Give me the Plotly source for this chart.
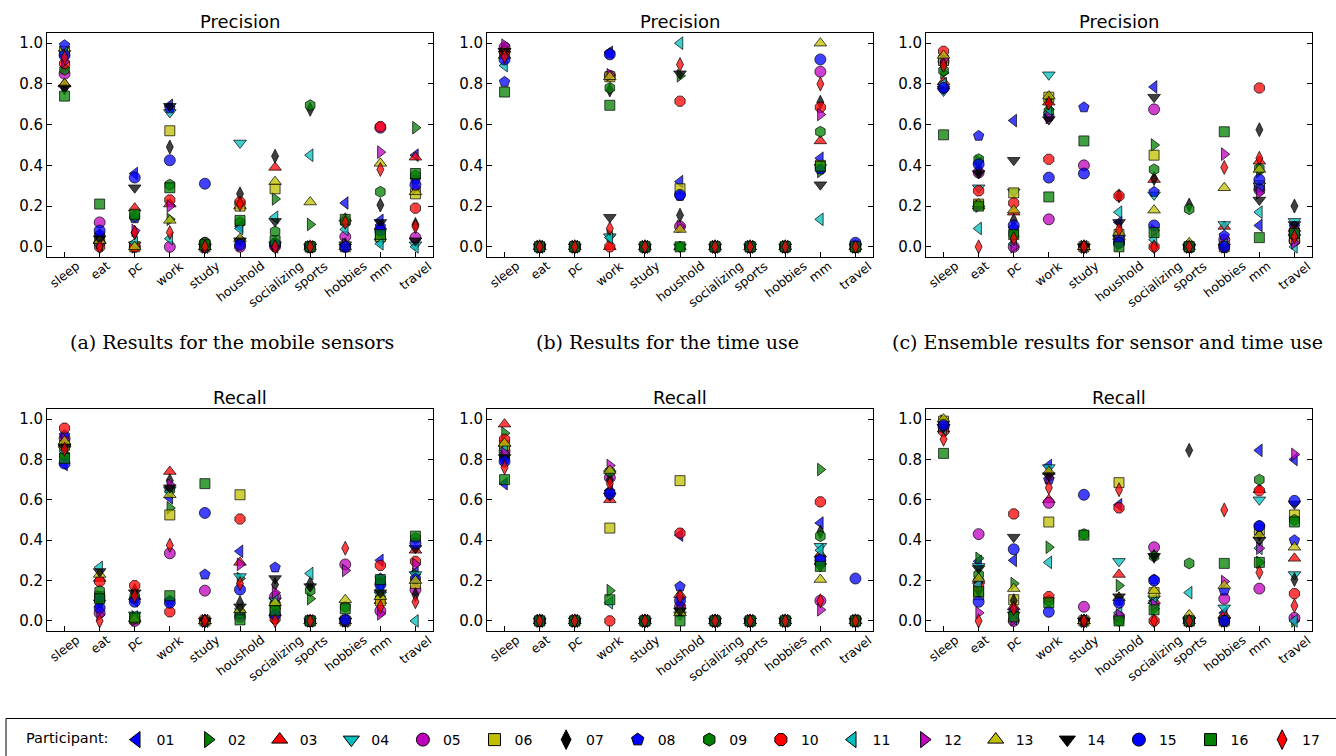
import math
import plotly.graph_objects as go

categories = ["sleep", "eat", "pc", "work", "study", "houshold", "socializing",
              "sports", "hobbies", "mm", "travel"]
participants = ["01", "02", "03", "04", "05", "06", "07", "08", "09", "10",
                "11", "12", "13", "14", "15", "16", "17"]

# rows = categories, columns = participants 01..17
prec_sensor = [
    [0.94, 0.88, 0.80, 0.95, 0.85, 0.96, 0.78, 0.99, 0.87, 0.90, 0.95, 0.91, 0.80, 0.78, 0.94, 0.74, 0.93],
    [0.01, 0.02, 0.03, 0.01, 0.12, 0.04, 0.05, 0.06, 0.02, 0.00, 0.01, 0.02, 0.03, 0.04, 0.08, 0.21, 0.00],
    [0.36, 0.00, 0.19, 0.01, 0.00, 0.00, 0.07, 0.14, 0.15, 0.00, 0.02, 0.08, 0.00, 0.29, 0.34, 0.16, 0.07],
    [0.695, 0.135, 0.21, 0.66, 0.00, 0.57, 0.49, 0.68, 0.305, 0.23, 0.04, 0.20, 0.13, 0.69, 0.425, 0.29, 0.07],
    [0.00, 0.00, 0.00, 0.00, 0.02, 0.00, 0.00, 0.00, 0.02, 0.00, 0.00, 0.00, 0.00, 0.00, 0.31, 0.01, 0.00],
    [0.10, 0.02, 0.20, 0.51, 0.00, 0.20, 0.26, 0.03, 0.12, 0.22, 0.09, 0.01, 0.04, 0.03, 0.01, 0.13, 0.21],
    [0.00, 0.235, 0.39, 0.01, 0.01, 0.285, 0.445, 0.02, 0.075, 0.00, 0.145, 0.01, 0.32, 0.125, 0.01, 0.03, 0.00],
    [0.00, 0.11, 0.00, 0.00, 0.00, 0.00, 0.675, 0.00, 0.695, 0.00, 0.45, 0.00, 0.22, 0.00, 0.00, 0.00, 0.00],
    [0.215, 0.01, 0.14, 0.01, 0.05, 0.00, 0.01, 0.00, 0.12, 0.00, 0.085, 0.01, 0.00, 0.00, 0.00, 0.135, 0.12],
    [0.13, 0.05, 0.10, 0.025, 0.585, 0.05, 0.205, 0.10, 0.27, 0.59, 0.015, 0.465, 0.41, 0.12, 0.08, 0.06, 0.38],
    [0.45, 0.585, 0.44, 0.01, 0.045, 0.26, 0.11, 0.33, 0.35, 0.19, 0.00, 0.29, 0.27, 0.03, 0.305, 0.36, 0.10],
]

prec_time = [
    [0.95, 0.96, 0.97, 0.96, 0.98, 0.95, 0.97, 0.81, 0.96, 0.96, 0.89, 0.99, 0.94, 0.96, 0.92, 0.76, 0.935],
    [0.0] * 17,
    [0.0] * 17,
    [0.955, 0.055, 0.00, 0.05, 0.84, 0.835, 0.77, 0.95, 0.78, 0.00, 0.045, 0.845, 0.835, 0.145, 0.945, 0.695, 0.09],
    [0.0] * 17,
    [0.32, 0.84, 0.00, 0.00, 0.10, 0.285, 0.155, 0.25, 0.00, 0.715, 1.00, 0.10, 0.085, 0.85, 0.255, 0.00, 0.895],
    [0.0] * 17,
    [0.0] * 17,
    [0.0] * 17,
    [0.435, 0.37, 0.52, 0.39, 0.86, 0.40, 0.71, 0.38, 0.565, 0.685, 0.135, 0.65, 1.00, 0.305, 0.92, 0.395, 0.80],
    [0.00, 0.00, 0.00, 0.00, 0.00, 0.00, 0.00, 0.00, 0.00, 0.00, 0.00, 0.00, 0.00, 0.00, 0.02, 0.00, 0.00],
]

prec_ens = [
    [0.80, 0.855, 0.81, 0.765, 0.91, 0.915, 0.905, 0.78, 0.865, 0.96, 0.80, 0.92, 0.94, 0.775, 0.78, 0.55, 0.89],
    [0.41, 0.42, 0.20, 0.29, 0.365, 0.21, 0.37, 0.545, 0.43, 0.275, 0.09, 0.20, 0.21, 0.36, 0.405, 0.20, 0.00],
    [0.62, 0.05, 0.17, 0.27, 0.00, 0.265, 0.13, 0.09, 0.065, 0.215, 0.015, 0.00, 0.18, 0.425, 0.105, 0.06, 0.04],
    [0.65, 0.675, 0.71, 0.845, 0.135, 0.735, 0.725, 0.64, 0.665, 0.43, 0.66, 0.635, 0.74, 0.625, 0.34, 0.245, 0.705],
    [0.00, 0.00, 0.00, 0.00, 0.40, 0.00, 0.00, 0.685, 0.00, 0.00, 0.00, 0.00, 0.00, 0.00, 0.36, 0.52, 0.00],
    [0.12, 0.03, 0.05, 0.04, 0.02, 0.06, 0.25, 0.05, 0.02, 0.25, 0.17, 0.01, 0.07, 0.12, 0.02, 0.00, 0.085],
    [0.785, 0.50, 0.33, 0.255, 0.675, 0.45, 0.335, 0.27, 0.38, 0.00, 0.035, 0.08, 0.18, 0.735, 0.105, 0.07, 0.00],
    [0.00, 0.00, 0.00, 0.00, 0.00, 0.00, 0.205, 0.00, 0.185, 0.00, 0.00, 0.00, 0.02, 0.00, 0.00, 0.00, 0.00],
    [0.00, 0.00, 0.10, 0.11, 0.035, 0.00, 0.00, 0.055, 0.00, 0.00, 0.01, 0.455, 0.29, 0.00, 0.00, 0.565, 0.39],
    [0.105, 0.37, 0.42, 0.30, 0.28, 0.30, 0.575, 0.29, 0.385, 0.78, 0.17, 0.265, 0.38, 0.23, 0.33, 0.045, 0.435],
    [0.08, 0.05, 0.09, 0.125, 0.03, 0.04, 0.20, 0.10, 0.065, 0.08, 0.00, 0.02, 0.07, 0.11, 0.06, 0.065, 0.05],
]

rec_sensor = [
    [0.775, 0.83, 0.88, 0.85, 0.905, 0.87, 0.875, 0.92, 0.82, 0.955, 0.84, 0.90, 0.89, 0.86, 0.78, 0.805, 0.85],
    [0.07, 0.12, 0.21, 0.09, 0.04, 0.12, 0.10, 0.12, 0.15, 0.195, 0.265, 0.03, 0.23, 0.245, 0.065, 0.11, 0.00],
    [0.10, 0.02, 0.12, 0.03, 0.00, 0.01, 0.15, 0.11, 0.12, 0.175, 0.02, 0.005, 0.01, 0.14, 0.095, 0.015, 0.125],
    [0.61, 0.56, 0.74, 0.65, 0.335, 0.525, 0.695, 0.10, 0.65, 0.045, 0.64, 0.675, 0.625, 0.66, 0.09, 0.125, 0.375],
    [0.00, 0.00, 0.00, 0.00, 0.15, 0.00, 0.00, 0.23, 0.00, 0.00, 0.00, 0.00, 0.00, 0.00, 0.535, 0.68, 0.00],
    [0.345, 0.21, 0.29, 0.22, 0.02, 0.625, 0.09, 0.03, 0.04, 0.505, 0.06, 0.28, 0.055, 0.07, 0.155, 0.005, 0.185],
    [0.02, 0.06, 0.04, 0.10, 0.12, 0.07, 0.18, 0.265, 0.08, 0.01, 0.11, 0.14, 0.09, 0.21, 0.03, 0.05, 0.00],
    [0.00, 0.11, 0.00, 0.00, 0.00, 0.00, 0.185, 0.00, 0.15, 0.00, 0.235, 0.00, 0.00, 0.17, 0.00, 0.00, 0.00],
    [0.00, 0.00, 0.00, 0.00, 0.28, 0.00, 0.00, 0.00, 0.07, 0.00, 0.00, 0.25, 0.105, 0.00, 0.005, 0.06, 0.36],
    [0.30, 0.11, 0.10, 0.13, 0.05, 0.10, 0.17, 0.21, 0.19, 0.275, 0.155, 0.035, 0.12, 0.14, 0.18, 0.205, 0.07],
    [0.24, 0.23, 0.35, 0.23, 0.155, 0.185, 0.13, 0.21, 0.41, 0.295, 0.00, 0.28, 0.20, 0.36, 0.385, 0.42, 0.095],
]

rec_time = [
    [0.68, 0.93, 0.975, 0.855, 0.84, 0.87, 0.815, 0.80, 0.82, 0.90, 0.85, 0.83, 0.88, 0.81, 0.79, 0.70, 0.76],
    [0.0] * 17,
    [0.0] * 17,
    [0.645, 0.15, 0.60, 0.73, 0.71, 0.46, 0.70, 0.64, 0.74, 0.00, 0.09, 0.77, 0.745, 0.62, 0.63, 0.105, 0.68],
    [0.0] * 17,
    [0.425, 0.11, 0.13, 0.03, 0.07, 0.695, 0.06, 0.17, 0.05, 0.435, 0.06, 0.08, 0.04, 0.05, 0.10, 0.00, 0.12],
    [0.0] * 17,
    [0.0] * 17,
    [0.0] * 17,
    [0.485, 0.75, 0.33, 0.37, 0.10, 0.30, 0.44, 0.31, 0.42, 0.59, 0.35, 0.055, 0.205, 0.27, 0.30, 0.27, 0.10],
    [0.00, 0.00, 0.00, 0.00, 0.00, 0.00, 0.00, 0.00, 0.00, 0.00, 0.00, 0.00, 0.00, 0.00, 0.21, 0.00, 0.00],
]

rec_ens = [
    [0.98, 0.99, 0.95, 0.96, 0.96, 0.99, 0.97, 0.975, 0.98, 0.94, 0.95, 0.97, 1.00, 0.96, 0.97, 0.83, 0.90],
    [0.295, 0.31, 0.20, 0.27, 0.43, 0.13, 0.15, 0.20, 0.23, 0.17, 0.18, 0.04, 0.21, 0.26, 0.095, 0.145, 0.00],
    [0.30, 0.185, 0.07, 0.03, 0.00, 0.105, 0.10, 0.05, 0.03, 0.53, 0.01, 0.005, 0.16, 0.415, 0.355, 0.02, 0.06],
    [0.77, 0.365, 0.60, 0.76, 0.585, 0.49, 0.73, 0.70, 0.10, 0.12, 0.29, 0.71, 0.74, 0.72, 0.045, 0.09, 0.66],
    [0.00, 0.00, 0.00, 0.00, 0.07, 0.00, 0.00, 0.00, 0.43, 0.00, 0.00, 0.00, 0.00, 0.00, 0.625, 0.425, 0.00],
    [0.575, 0.175, 0.23, 0.295, 0.02, 0.685, 0.11, 0.10, 0.00, 0.56, 0.04, 0.03, 0.115, 0.12, 0.09, 0.00, 0.65],
    [0.10, 0.06, 0.10, 0.11, 0.365, 0.14, 0.32, 0.205, 0.32, 0.00, 0.09, 0.08, 0.15, 0.32, 0.20, 0.055, 0.00],
    [0.00, 0.00, 0.00, 0.00, 0.00, 0.00, 0.845, 0.00, 0.285, 0.00, 0.14, 0.00, 0.03, 0.00, 0.00, 0.00, 0.00],
    [0.04, 0.00, 0.03, 0.065, 0.11, 0.00, 0.00, 0.15, 0.00, 0.00, 0.00, 0.195, 0.175, 0.00, 0.00, 0.285, 0.55],
    [0.845, 0.29, 0.65, 0.60, 0.16, 0.45, 0.43, 0.47, 0.70, 0.645, 0.36, 0.36, 0.425, 0.40, 0.47, 0.29, 0.24],
    [0.80, 0.00, 0.31, 0.23, 0.015, 0.525, 0.205, 0.40, 0.50, 0.135, 0.00, 0.825, 0.365, 0.58, 0.595, 0.49, 0.075],
]

panels = [prec_sensor, prec_time, prec_ens, rec_sensor, rec_time, rec_ens]
titles = ["Precision", "Precision", "Precision", "Recall", "Recall", "Recall"]
captions = ["(a) Results for the mobile sensors", "(b) Results for the time use",
            "(c) Ensemble results for sensor and time use"]

# styles
base_rgb = {"b": (0, 0, 255), "g": (0, 128, 0), "r": (255, 0, 0), "c": (0, 191, 191),
            "m": (191, 0, 191), "y": (191, 191, 0), "k": (0, 0, 0)}
p_colors = ["b", "g", "r", "c", "m", "y", "k", "b", "g", "r", "c", "m", "y", "k", "b", "g", "r"]
p_symbols = ["triangle-left", "triangle-right", "triangle-up", "triangle-down", "circle",
             "square", "diamond-tall", "pentagon", "hexagon", "octagon", "triangle-left",
             "triangle-right", "triangle-up", "triangle-down", "circle", "square", "diamond-tall"]
sym_size = {"triangle-left": 11, "triangle-right": 11, "triangle-up": 11, "triangle-down": 11,
            "circle": 11, "square": 10, "diamond-tall": 10, "pentagon": 11, "hexagon": 11,
            "octagon": 11}
leg_size = {"triangle-left": 14, "triangle-right": 14, "triangle-up": 14, "triangle-down": 14,
            "circle": 13, "square": 12, "diamond-tall": 14, "pentagon": 13, "hexagon": 13,
            "octagon": 13}

# approximate DejaVu Sans advance widths (em) used to place rotated tick labels
char_w = {"a": .613, "b": .635, "c": .550, "d": .635, "e": .615, "g": .635, "h": .634,
          "i": .278, "k": .579, "l": .278, "m": .974, "n": .634, "o": .612, "p": .635,
          "r": .411, "s": .521, "t": .392, "u": .634, "v": .592, "w": .818, "y": .592, "z": .525}
TICK_FS = 12.5
TICK_ANG = 38

W, H = 1336, 756
col_px = [(47, 433), (487, 873), (926, 1312)]
row_px = [(33, 257), (409, 631)]
cap_cx = [232, 667, 1107]

fig = go.Figure()
layout = dict(width=W, height=H, margin=dict(l=0, r=0, t=0, b=0),
              paper_bgcolor="white", plot_bgcolor="white",
              font=dict(family="DejaVu Sans", color="black"))
annotations = []

sa, ca = math.sin(math.radians(TICK_ANG)), math.cos(math.radians(TICK_ANG))

for k in range(6):
    r, c = divmod(k, 3)
    sfx = "" if k == 0 else str(k + 1)
    x0, x1 = col_px[c]
    y0, y1 = row_px[r]
    layout["xaxis" + sfx] = dict(
        domain=[x0 / W, x1 / W], anchor="y" + sfx, type="category",
        categoryorder="array", categoryarray=categories, range=[-0.5, 10.5],
        showgrid=False, zeroline=False, showline=True, linecolor="black", linewidth=1,
        mirror=True, ticks="inside", ticklen=5, tickcolor="black", showticklabels=False)
    layout["yaxis" + sfx] = dict(
        domain=[1 - y1 / H, 1 - y0 / H], anchor="x" + sfx, range=[-0.05, 1.05],
        tickvals=[0, 0.2, 0.4, 0.6, 0.8, 1.0], tickformat=".1f",
        showgrid=False, zeroline=False, showline=True, linecolor="black", linewidth=1,
        mirror="ticks", ticks="inside", ticklen=5, tickcolor="black",
        tickfont=dict(size=15, family="DejaVu Sans"))
    xr = "x" + sfx
    annotations.append(dict(text=titles[k], x=0.5, xref=xr + " domain", y=1, yref="y" + sfx + " domain",
                            yanchor="bottom", xanchor="center", yshift=-1, showarrow=False,
                            font=dict(size=18, family="DejaVu Sans")))
    for cat in categories:
        L = sum(char_w.get(ch, 0.6) for ch in cat) * TICK_FS
        box_h = L * sa + 8 * ca
        annotations.append(dict(text=cat, x=cat, xref=xr, y=0, yref="y" + sfx + " domain",
                                yanchor="middle", xanchor="center", yshift=-(4 + box_h / 2),
                                textangle=-TICK_ANG, showarrow=False,
                                font=dict(size=TICK_FS, family="DejaVu Sans")))
    data = panels[k]
    for p, name in enumerate(participants):
        rgb = base_rgb[p_colors[p]]
        fig.add_trace(go.Scatter(
            x=categories, y=[row[p] for row in data], mode="markers", name=name,
            legendgroup=name, showlegend=False, xaxis=xr, yaxis="y" + sfx,
            marker=dict(symbol=p_symbols[p], size=sym_size[p_symbols[p]],
                        color="rgba(%d,%d,%d,0.75)" % rgb,
                        line=dict(color="rgba(0,0,0,0.7)", width=1))))

# legend-only entries (opaque, larger symbols as in the reference legend)
for p, name in enumerate(participants):
    rgb = base_rgb[p_colors[p]]
    fig.add_trace(go.Scatter(
        x=[None], y=[None], mode="markers", name=name, legendgroup=name, showlegend=True,
        xaxis="x", yaxis="y",
        marker=dict(symbol=p_symbols[p], size=leg_size[p_symbols[p]],
                    color="rgb(%d,%d,%d)" % rgb, line=dict(color="black", width=1))))

for c in range(3):
    annotations.append(dict(text=captions[c], x=cap_cx[c] / W, xref="paper", xanchor="center",
                            y=1 - 342 / H, yref="paper", yanchor="middle", showarrow=False,
                            font=dict(size=19, family="DejaVu Serif")))

layout["annotations"] = annotations
layout["shapes"] = [dict(type="rect", xref="paper", yref="paper", x0=6 / W, x1=1.01,
                         y0=-0.05, y1=1 - 718.5 / H, line=dict(color="black", width=1))]
layout["legend"] = dict(orientation="h", x=24 / W, xanchor="left", y=1 - 740 / H, yanchor="middle",
                        title=dict(text="Participant:", side="left",
                                   font=dict(size=14.5, family="DejaVu Sans")),
                        font=dict(size=14, family="DejaVu Sans"),
                        entrywidth=26.6, entrywidthmode="pixels", bgcolor="rgba(0,0,0,0)",
                        itemwidth=30, tracegroupgap=0)
fig.update_layout(**layout)
fig.write_html("out.html", config={"displayModeBar": False},
               post_script="document.body.style.margin='0';")
